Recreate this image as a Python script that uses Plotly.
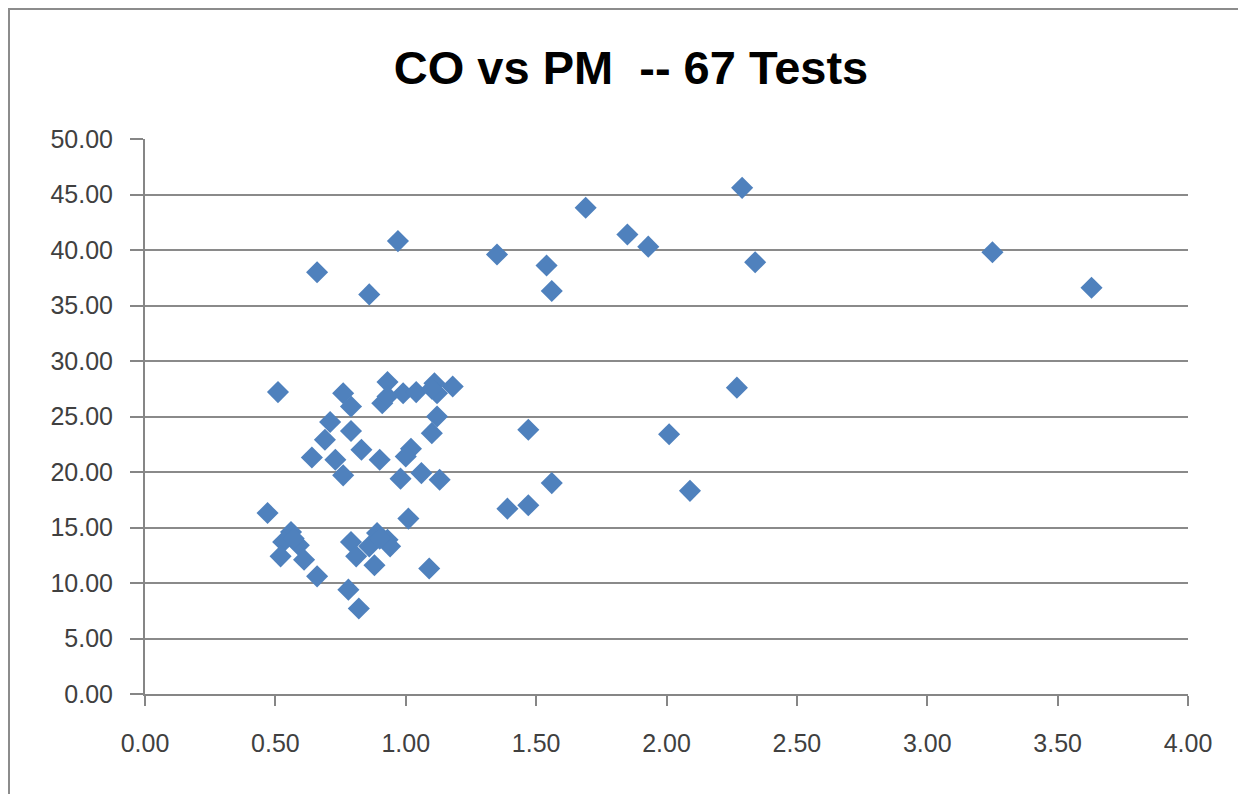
import plotly.graph_objects as go

co = [0.66, 0.86, 0.97, 1.35, 1.54, 1.56, 1.69, 1.85, 1.93, 2.29, 2.34, 3.25, 3.63,
      2.27, 2.01, 2.09, 1.47, 1.39, 1.47, 1.56, 1.09,
      0.51, 0.76, 0.79, 0.71, 0.69, 0.64, 0.79, 0.83, 0.73, 0.76, 0.90, 0.93, 0.91,
      0.99, 1.04, 1.11, 1.18, 1.12, 1.12, 1.10, 1.02, 1.00, 0.98, 1.06, 1.13, 0.47,
      1.01, 0.56, 0.53, 0.59, 0.52, 0.61, 0.66, 0.79, 0.81, 0.89, 0.93, 0.86, 0.94,
      0.88, 0.78, 0.82, 0.57, 0.93, 0.90, 1.10]
pm = [38.0, 36.0, 40.8, 39.6, 38.6, 36.3, 43.8, 41.4, 40.3, 45.6, 38.9, 39.8, 36.6,
      27.6, 23.4, 18.3, 23.8, 16.7, 17.0, 19.0, 11.3,
      27.2, 27.1, 25.9, 24.5, 22.9, 21.3, 23.7, 22.0, 21.1, 19.7, 21.1, 28.1, 26.2,
      27.1, 27.2, 28.0, 27.7, 27.1, 25.0, 23.5, 22.1, 21.4, 19.4, 19.9, 19.3, 16.3,
      15.8, 14.6, 13.7, 13.4, 12.4, 12.1, 10.6, 13.7, 12.4, 14.5, 13.9, 13.3, 13.3,
      11.6, 9.4, 7.7, 14.0, 26.8, 14.0, 27.5]

x_ticks = [0, 0.5, 1.0, 1.5, 2.0, 2.5, 3.0, 3.5, 4.0]
y_ticks = [0, 5, 10, 15, 20, 25, 30, 35, 40, 45, 50]

L, R, T, B = 137, 66, 131, 108
W, H = 1246, 794
pw, ph = W - L - R, H - T - B

fig = go.Figure()
fig.add_trace(go.Scatter(
    x=co, y=pm, mode="markers",
    marker=dict(symbol="diamond", size=17, color="#4F81BD", line=dict(width=0)),
    showlegend=False,
))

fig.update_layout(
    width=W, height=H,
    margin=dict(l=L, r=R, t=T, b=B),
    paper_bgcolor="white", plot_bgcolor="white",
    title=dict(text="<b>CO vs PM  -- 67 Tests</b>", x=0.5, xanchor="center",
               y=1 - 60 / H, yanchor="middle",
               font=dict(family="Liberation Sans, Arial, sans-serif", size=47, color="black")),
    font=dict(family="Liberation Sans, Arial, sans-serif", size=25, color="#404040"),
    xaxis=dict(range=[0, 4], tickvals=x_ticks, tickformat=".2f", showgrid=False,
               zeroline=False, showline=True, linecolor="#868686", linewidth=2,
               ticks="outside", ticklen=10, tickcolor="#868686", tickwidth=2,
               ticklabelstandoff=16),
    yaxis=dict(range=[0, 50], tickvals=y_ticks, tickformat=".2f", showgrid=True,
               gridcolor="#8a8a8a", gridwidth=2, zeroline=False, showline=True,
               linecolor="#868686", linewidth=2, ticks="outside", ticklen=13,
               tickcolor="#868686", tickwidth=2, ticklabelstandoff=12),
    shapes=[dict(type="rect", xref="paper", yref="paper",
                 x0=(1 - L) / pw, x1=(W + 10 - L) / pw,
                 y0=-(B + 10) / ph, y1=1 + (T - 1) / ph,
                 line=dict(color="#8c8c8c", width=2), layer="below")],
)

fig.write_html("out.html")
